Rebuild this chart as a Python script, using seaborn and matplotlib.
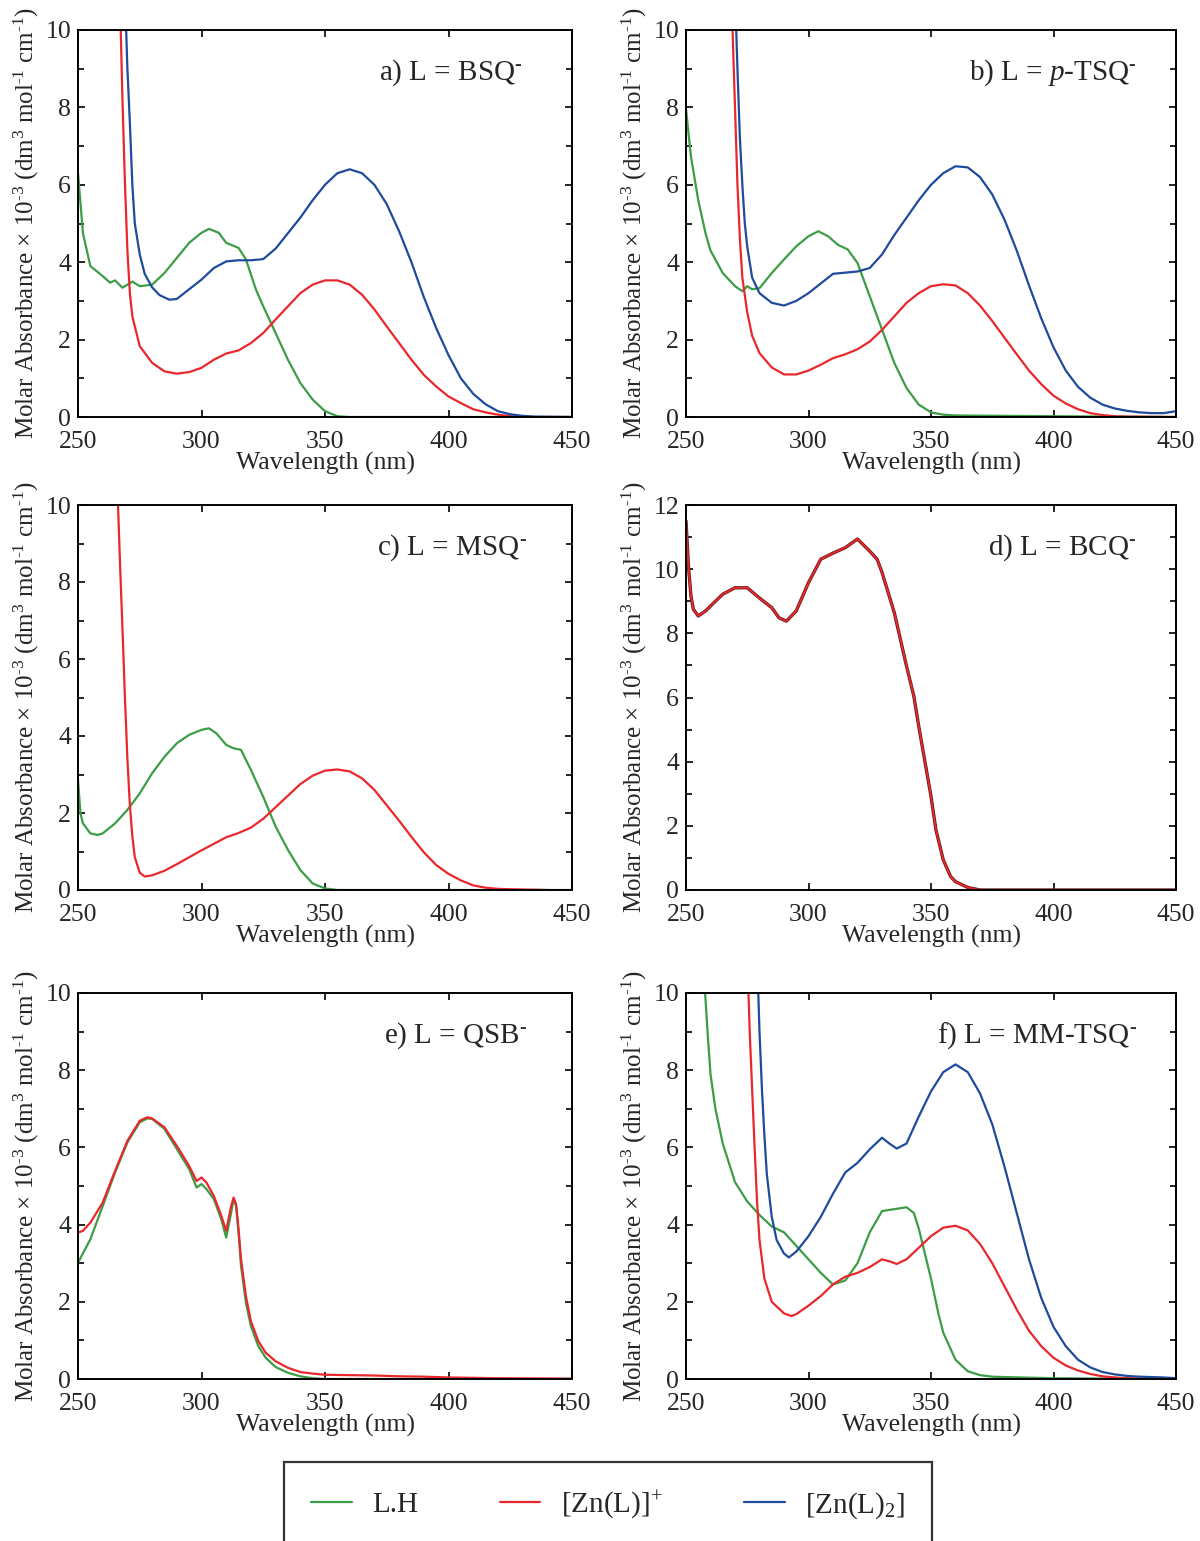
import numpy as np
import pandas as pd
import matplotlib
matplotlib.use("Agg")
import matplotlib.pyplot as plt
from matplotlib.ticker import MultipleLocator
from matplotlib.lines import Line2D
import seaborn as sns

# ---------------- data ----------------
# Panel a) BSQ
a_lh_x = [250, 252, 255, 260, 263, 265, 268, 272, 275, 280, 285, 290, 295, 300, 303, 307, 310, 315, 318, 322, 325, 330, 335, 340, 345, 350, 355, 360, 450]
a_lh_y = [6.3, 4.75, 3.9, 3.64, 3.47, 3.53, 3.34, 3.5, 3.38, 3.42, 3.72, 4.11, 4.5, 4.76, 4.86, 4.76, 4.5, 4.37, 4.07, 3.3, 2.86, 2.17, 1.48, 0.88, 0.45, 0.15, 0.02, 0.0, 0.0]
a_zn_x = [266.8, 267.3, 268, 269, 270, 271, 272, 275, 280, 285, 290, 295, 300, 305, 310, 315, 320, 325, 330, 335, 340, 345, 350, 355, 360, 365, 370, 375, 380, 385, 390, 395, 400, 405, 410, 415, 420, 425, 430, 450]
a_zn_y = [11.5, 10.0, 8.2, 6.05, 4.3, 3.2, 2.6, 1.83, 1.4, 1.18, 1.12, 1.16, 1.27, 1.48, 1.64, 1.72, 1.91, 2.17, 2.52, 2.86, 3.2, 3.42, 3.53, 3.53, 3.42, 3.16, 2.78, 2.34, 1.91, 1.48, 1.09, 0.79, 0.53, 0.36, 0.2, 0.12, 0.06, 0.02, 0.0, 0.0]
a_zn2_x = [269.2, 269.5, 270, 271, 272, 273, 275, 277, 280, 283, 287, 290, 295, 300, 305, 310, 315, 320, 325, 330, 335, 340, 345, 350, 355, 360, 365, 370, 375, 380, 385, 390, 395, 400, 405, 410, 415, 420, 425, 430, 435, 450]
a_zn2_y = [11.0, 10.0, 9.0, 7.6, 6.0, 5.0, 4.2, 3.7, 3.35, 3.15, 3.03, 3.05, 3.3, 3.55, 3.85, 4.02, 4.05, 4.05, 4.08, 4.35, 4.75, 5.15, 5.6, 6.0, 6.3, 6.4, 6.3, 6.0, 5.5, 4.8, 4.0, 3.1, 2.3, 1.6, 1.0, 0.6, 0.33, 0.15, 0.07, 0.03, 0.01, 0.0]

# Panel b) p-TSQ
b_lh_x = [250, 252, 255, 258, 260, 265, 270, 273, 275, 277, 280, 285, 290, 295, 300, 304, 308, 312, 316, 320, 325, 330, 335, 340, 345, 350, 355, 360, 400, 450]
b_lh_y = [7.95, 6.74, 5.6, 4.74, 4.3, 3.72, 3.38, 3.25, 3.38, 3.3, 3.33, 3.72, 4.07, 4.41, 4.67, 4.8, 4.67, 4.45, 4.33, 3.98, 3.12, 2.26, 1.4, 0.75, 0.32, 0.12, 0.06, 0.04, 0.02, 0.0]
b_zn_x = [268.7, 269, 270, 271, 272, 273, 275, 277, 280, 285, 290, 295, 300, 305, 310, 315, 320, 325, 330, 335, 340, 345, 350, 355, 360, 365, 370, 375, 380, 385, 390, 395, 400, 405, 410, 415, 420, 425, 430, 450]
b_zn_y = [11.0, 10.0, 8.0, 6.0, 4.6, 3.6, 2.7, 2.1, 1.65, 1.28, 1.1, 1.1, 1.2, 1.35, 1.52, 1.62, 1.75, 1.95, 2.25, 2.6, 2.95, 3.2, 3.38, 3.43, 3.4, 3.2, 2.88, 2.48, 2.05, 1.62, 1.2, 0.85, 0.55, 0.35, 0.2, 0.1, 0.05, 0.02, 0.01, 0.0]
b_zn2_x = [270.2, 270.5, 271, 272, 273, 274, 275, 277, 280, 285, 290, 295, 300, 305, 310, 315, 320, 325, 330, 335, 340, 345, 350, 355, 360, 365, 370, 375, 380, 385, 390, 395, 400, 405, 410, 415, 420, 425, 430, 435, 440, 445, 450]
b_zn2_y = [11.0, 10.0, 9.0, 7.2, 6.0, 5.0, 4.4, 3.6, 3.2, 2.95, 2.88, 3.0, 3.2, 3.45, 3.7, 3.73, 3.76, 3.85, 4.2, 4.7, 5.15, 5.6, 6.0, 6.3, 6.48, 6.45, 6.2, 5.75, 5.1, 4.3, 3.4, 2.55, 1.8, 1.2, 0.78, 0.5, 0.32, 0.22, 0.16, 0.12, 0.1, 0.1, 0.15]

# Panel c) MSQ
c_lh_x = [250, 251, 252, 255, 258, 260, 265, 270, 275, 280, 285, 290, 295, 300, 303, 306, 310, 313, 316, 320, 325, 330, 335, 340, 345, 350, 355, 450]
c_lh_y = [2.86, 1.99, 1.73, 1.47, 1.43, 1.47, 1.73, 2.08, 2.51, 3.03, 3.46, 3.81, 4.03, 4.16, 4.2, 4.07, 3.77, 3.68, 3.64, 3.12, 2.42, 1.65, 1.04, 0.52, 0.17, 0.04, 0.0, 0.0]
c_zn_x = [265.9, 266.2, 267, 268, 269, 270, 271, 272, 273, 275, 277, 280, 285, 290, 295, 300, 305, 310, 315, 320, 325, 330, 335, 340, 345, 350, 355, 360, 365, 370, 375, 380, 385, 390, 395, 400, 405, 410, 415, 420, 425, 440]
c_zn_y = [11.0, 10.0, 8.5, 6.8, 5.0, 3.4, 2.2, 1.4, 0.85, 0.45, 0.35, 0.38, 0.5, 0.67, 0.85, 1.03, 1.2, 1.37, 1.48, 1.62, 1.85, 2.15, 2.45, 2.75, 2.97, 3.1, 3.13, 3.08, 2.9, 2.6, 2.2, 1.8, 1.38, 0.98, 0.65, 0.42, 0.25, 0.12, 0.06, 0.03, 0.02, 0.0]

# Panel d) BCQ
d_x = [250, 251, 252, 253, 255, 258, 260, 265, 270, 275, 280, 285, 288, 291, 295, 300, 305, 310, 315, 320, 325, 328, 330, 335, 340, 343, 345, 350, 352, 355, 358, 360, 365, 370, 450]
d_y = [11.5, 10.1, 9.17, 8.75, 8.54, 8.7, 8.85, 9.22, 9.42, 9.42, 9.1, 8.8, 8.48, 8.38, 8.7, 9.58, 10.31, 10.5, 10.67, 10.94, 10.56, 10.31, 9.9, 8.65, 6.98, 6.04, 5.1, 2.92, 1.88, 0.94, 0.42, 0.26, 0.08, 0.0, 0.0]

# Panel e) QSB
e_lh_x = [250, 255, 260, 265, 270, 275, 278, 280, 285, 290, 295, 298, 300, 302, 305, 308, 310, 312, 313, 314, 315, 316, 318, 320, 323, 326, 330, 335, 340, 345, 350, 450]
e_lh_y = [3.01, 3.62, 4.48, 5.35, 6.13, 6.65, 6.75, 6.74, 6.48, 5.96, 5.44, 4.96, 5.05, 4.92, 4.66, 4.14, 3.66, 4.31, 4.66, 4.48, 3.79, 2.93, 1.97, 1.37, 0.85, 0.55, 0.31, 0.16, 0.07, 0.02, 0.0, 0.0]
e_zn_x = [250, 252, 255, 260, 265, 270, 275, 278, 280, 285, 290, 295, 298, 300, 302, 305, 308, 310, 312, 313, 314, 315, 316, 318, 320, 323, 326, 330, 335, 340, 345, 350, 360, 370, 380, 390, 400, 420, 450]
e_zn_y = [3.79, 3.84, 4.05, 4.57, 5.39, 6.17, 6.69, 6.78, 6.75, 6.52, 6.04, 5.52, 5.13, 5.22, 5.09, 4.74, 4.23, 3.84, 4.48, 4.7, 4.53, 3.88, 3.1, 2.14, 1.5, 0.98, 0.68, 0.46, 0.29, 0.18, 0.14, 0.11, 0.1, 0.09, 0.07, 0.06, 0.04, 0.02, 0.01]

# Panel f) MM-TSQ
f_lh_x = [257.5, 257.8, 258, 259, 260, 262, 265, 268, 270, 275, 280, 285, 290, 295, 300, 305, 310, 315, 320, 325, 330, 335, 340, 343, 345, 350, 353, 355, 360, 365, 370, 375, 380, 400, 450]
f_lh_y = [11.0, 10.0, 9.8, 8.8, 7.9, 7.0, 6.1, 5.5, 5.1, 4.6, 4.25, 3.95, 3.8, 3.45, 3.1, 2.75, 2.45, 2.55, 3.0, 3.8, 4.35, 4.4, 4.45, 4.3, 3.9, 2.6, 1.7, 1.2, 0.5, 0.2, 0.1, 0.06, 0.05, 0.02, 0.0]
f_zn_x = [275.2, 275.5, 276, 277, 278, 279, 280, 282, 285, 290, 293, 295, 300, 305, 310, 315, 320, 325, 330, 333, 336, 340, 345, 350, 355, 360, 365, 370, 375, 380, 385, 390, 395, 400, 405, 410, 415, 420, 425, 430, 450]
f_zn_y = [11.0, 10.0, 9.0, 7.5, 6.0, 4.6, 3.6, 2.6, 2.0, 1.7, 1.63, 1.68, 1.9, 2.15, 2.45, 2.65, 2.75, 2.9, 3.1, 3.05, 2.98, 3.1, 3.4, 3.7, 3.92, 3.97, 3.85, 3.5, 3.0, 2.4, 1.8, 1.25, 0.85, 0.55, 0.35, 0.22, 0.13, 0.07, 0.04, 0.02, 0.0]
f_zn2_x = [279.2, 279.5, 280, 281, 282, 283, 285, 287, 290, 292, 295, 300, 305, 310, 315, 320, 325, 330, 333, 336, 340, 345, 350, 355, 360, 365, 370, 375, 380, 385, 390, 395, 400, 405, 410, 415, 420, 425, 430, 435, 440, 445, 450]
f_zn2_y = [11.0, 10.0, 9.0, 7.5, 6.3, 5.3, 4.2, 3.6, 3.25, 3.15, 3.3, 3.7, 4.2, 4.8, 5.35, 5.6, 5.95, 6.25, 6.1, 5.97, 6.1, 6.8, 7.45, 7.95, 8.15, 7.95, 7.4, 6.6, 5.5, 4.3, 3.1, 2.1, 1.35, 0.85, 0.5, 0.3, 0.18, 0.12, 0.08, 0.06, 0.05, 0.04, 0.02]

x_ticks = [250, 300, 350, 400, 450]
series_labels = ["L.H", r"[Zn(L)]$^{+}$", r"[Zn(L)$_2$]"]
panel_titles = [r"a) L = BSQ$^{\text{-}}$", r"b) L = $p$-TSQ$^{\text{-}}$", r"c) L = MSQ$^{\text{-}}$",
                r"d) L = BCQ$^{\text{-}}$", r"e) L = QSB$^{\text{-}}$", r"f) L = MM-TSQ$^{\text{-}}$"]

# ---------------- style ----------------
sns.set_style("ticks")
plt.rcParams["font.family"] = ["Liberation Serif", "DejaVu Serif"]
plt.rcParams["mathtext.fontset"] = "custom"
plt.rcParams["mathtext.rm"] = "Liberation Serif"
plt.rcParams["mathtext.it"] = "Liberation Serif:italic"
plt.rcParams["mathtext.bf"] = "Liberation Serif:bold"

GREEN = "#3c9d46"
RED = "#e8282c"
BLUE = "#1f4b9c"
LW = 1.6

W, H = 1200, 1541
fig = plt.figure(figsize=(W / 100, H / 100), dpi=100)

def axes_px(l, t, r, b):
    return fig.add_axes([l / W, 1 - b / H, (r - l) / W, (b - t) / H])

lefts = [(78, 572), (686, 1176)]
rows = [(30, 417), (505, 890), (993, 1379)]

ylabel = r"Molar Absorbance $\times$ 10$^{\text{-3}}$ (dm$^{3}$ mol$^{\text{-1}}$ cm$^{\text{-1}}$)"

panels = [
    [(a_lh_x, a_lh_y, GREEN), (a_zn_x, a_zn_y, RED), (a_zn2_x, a_zn2_y, BLUE)],
    [(b_lh_x, b_lh_y, GREEN), (b_zn_x, b_zn_y, RED), (b_zn2_x, b_zn2_y, BLUE)],
    [(c_lh_x, c_lh_y, GREEN), (c_zn_x, c_zn_y, RED)],
    [(d_x, d_y, "#6a1c1c"), (d_x, d_y, RED)],
    [(e_lh_x, e_lh_y, GREEN), (e_zn_x, e_zn_y, RED)],
    [(f_lh_x, f_lh_y, GREEN), (f_zn_x, f_zn_y, RED), (f_zn2_x, f_zn2_y, BLUE)],
]
title_x = [0.90, 0.92, 0.91, 0.92, 0.91, 0.92]

for i, series in enumerate(panels):
    r, c = divmod(i, 2)
    l, rr = lefts[c]
    t, b = rows[r]
    ax = axes_px(l, t, rr, b)
    for j, (xs, ys, col) in enumerate(series):
        df = pd.DataFrame({"x": xs, "y": ys})
        lw = LW
        if i == 3 and j == 0:
            lw = 2.4
        elif i == 3 and j == 1:
            lw = 1.3
        sns.lineplot(data=df, x="x", y="y", ax=ax, color=col, lw=lw, sort=False,
                     estimator=None)
    ymax = 12 if i == 3 else 10
    ax.set_xlim(250, 450)
    ax.set_ylim(0, ymax)
    ax.set_xticks(x_ticks)
    ax.yaxis.set_major_locator(MultipleLocator(2))
    ax.yaxis.set_minor_locator(MultipleLocator(1))
    ax.tick_params(axis="both", which="both", direction="in", top=True, right=True,
                   labelsize=18.5, width=1.2, color="black", pad=5)
    ax.tick_params(axis="both", which="major", length=5)
    ax.tick_params(axis="both", which="minor", length=4)
    ax.tick_params(axis="x", pad=10)
    for s in ax.spines.values():
        s.set_linewidth(1.4)
        s.set_color("black")
    ax.set_xlabel("Wavelength (nm)", fontsize=18.5, labelpad=-1)
    ax.set_ylabel(ylabel, fontsize=18, labelpad=3)
    ax.text(title_x[i], 0.89, panel_titles[i], transform=ax.transAxes,
            ha="right", va="center", fontsize=21)

handles = [Line2D([], [], color=GREEN, lw=LW),
           Line2D([], [], color=RED, lw=LW),
           Line2D([], [], color=BLUE, lw=LW)]
leg = fig.legend(handles, series_labels, loc="center",
                 bbox_to_anchor=(608 / W, 1 - 1505 / H), ncol=3, frameon=True,
                 fancybox=False, edgecolor="black", fontsize=21,
                 handlelength=1.4, handletextpad=0.7, columnspacing=2.8,
                 borderpad=0.9, borderaxespad=0)
leg.get_frame().set_linewidth(1.6)

fig.savefig("out.png", dpi=100)
